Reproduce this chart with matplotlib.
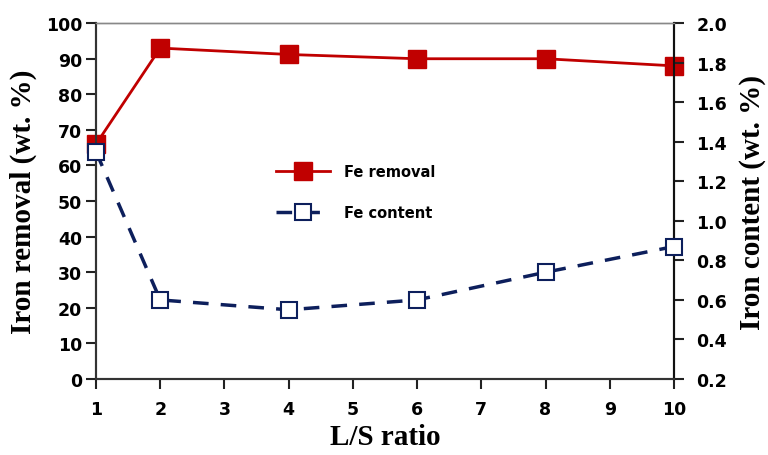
import matplotlib
matplotlib.use("Agg")
import matplotlib.pyplot as plt
from matplotlib.font_manager import FontProperties

# L/S ratio data
ls_ratio = [1, 2, 4, 6, 8, 10]
fe_removal = [66, 93, 91.2, 90, 90, 88]          # wt. %, left axis
fe_content = [1.35, 0.60, 0.55, 0.60, 0.74, 0.87]  # wt. %, right axis

red = "#C00000"
navy = "#0D1F5C"

fig = plt.figure(figsize=(7.68, 4.56), dpi=100)
ax = fig.add_axes([0.125, 0.1667, 0.7526, 0.7803])
ax2 = ax.twinx()

l1, = ax.plot(ls_ratio, fe_removal, color=red, lw=2, marker="s", ms=13,
              mfc=red, mec=red, label="Fe removal", zorder=3, clip_on=False)
l2, = ax2.plot(ls_ratio, fe_content, color=navy, lw=2.5, ls=(0, (4.5, 3.5)),
               marker="s", ms=12, mfc="white", mec=navy, mew=1.5,
               label="Fe content", zorder=3, clip_on=False)

ax.set_xlim(1, 10)
ax.set_ylim(0, 100)
ax2.set_ylim(0.2, 2.0)
ax.set_xticks(range(1, 11))
ax.set_yticks(range(0, 101, 10))
ax2.set_yticks([0.2, 0.4, 0.6, 0.8, 1.0, 1.2, 1.4, 1.6, 1.8, 2.0])
ax2.set_yticklabels(["%.1f" % v for v in ax2.get_yticks()])

tick_fp = FontProperties(family="DejaVu Sans", weight="bold", size=12.5)
for a in (ax, ax2):
    for lab in a.get_xticklabels() + a.get_yticklabels():
        lab.set_fontproperties(tick_fp)
    a.tick_params(length=7, width=1.5, color="#222222", pad=3)

ax.tick_params(axis="x", pad=8)
ax2.tick_params(axis="y", pad=9)

for a in (ax, ax2):
    a.spines["top"].set_color("#888888")
    a.spines["top"].set_linewidth(1)
    a.spines["left"].set_linewidth(1.5)
    a.spines["bottom"].set_linewidth(1.5)
    a.spines["right"].set_linewidth(1.5)
    a.spines["left"].set_color("#333333")
    a.spines["bottom"].set_color("#333333")
    a.spines["right"].set_color("#111111")

label_font = dict(family="Liberation Serif", weight="bold", size=21)
ax.set_xlabel("L/S ratio", labelpad=4, **label_font)
ax.set_ylabel("Iron removal (wt. %)", labelpad=6, **label_font)
ax2.set_ylabel("Iron content (wt. %)", labelpad=9, **label_font)

leg = ax2.legend([l1, l2], ["Fe removal", "Fe content"], loc="upper left",
                 bbox_to_anchor=(0.288, 0.64), frameon=False, handlelength=3.7,
                 handletextpad=1.0, labelspacing=1.75,
                 prop=dict(family="DejaVu Sans", weight="bold", size=10.5))

fig.savefig("out.png", dpi=100)
